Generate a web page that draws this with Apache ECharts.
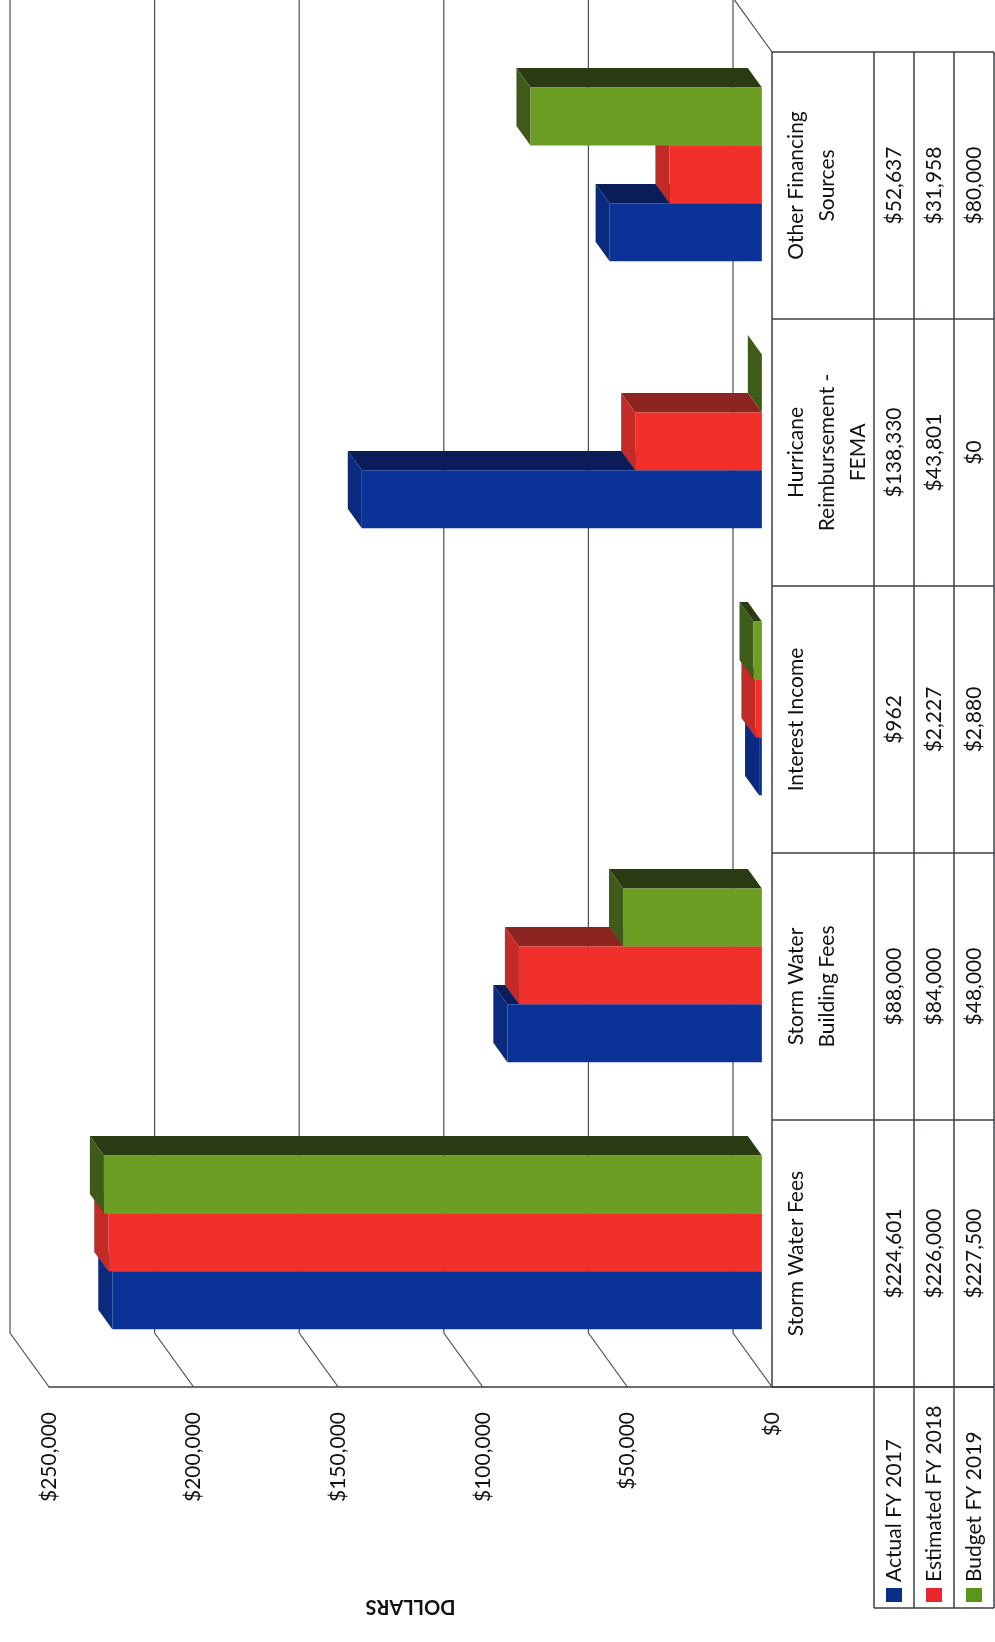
<!DOCTYPE html>
<html>
<head>
<meta charset="utf-8">
<title>Storm Water Revenue</title>
<script src="https://cdn.jsdelivr.net/npm/echarts/dist/echarts.min.js"></script>
<style>
  html, body { margin: 0; padding: 0; background: #ffffff; }
  #chart { width: 995px; height: 1642px; }
</style>
</head>
<body>
<div id="chart"></div>
<script>
// ---- data ----
const categories = [
  'Storm Water Fees',
  'Storm Water\nBuilding Fees',
  'Interest Income',
  'Hurricane\nReimbursement -\nFEMA',
  'Other Financing\nSources'
];
const seriesNames = ['Actual FY 2017', 'Estimated FY 2018', 'Budget FY 2019'];
const actualFY2017 = [224601, 88000, 962, 138330, 52637];
const estimatedFY2018 = [226000, 84000, 2227, 43801, 31958];
const budgetFY2019 = [227500, 48000, 2880, 0, 80000];
const valueTicks = [0, 50000, 100000, 150000, 200000, 250000];
const axisTitle = 'DOLLARS';

// ---- look ----
const FONT = 'Lato, "Open Sans", sans-serif';
const faces = [
  { front: '#0b3397', top: '#0a1d58', end: '#0a2a80', key: '#063087' },
  { front: '#f2302b', top: '#8c2420', end: '#c42a26', key: '#e8262d' },
  { front: '#6c9e23', top: '#2a3a12', end: '#3f5b18', key: '#5b961c' }
];
const DEPTH = [39, 54];          // back wall -> front edge projection (px)
const FRONT_D = 0.74, BACK_D = 0.38; // bar slab position inside the depth
const LINE = '#3b3f44';
const GRID = { left: 49, top: 52, right: 223, bottom: 255 };
const CAT_COL = 102, VAL_COL = 40, LEGEND_H = 221;

const fmt = v => '$' + v.toLocaleString('en-US');
const allSeries = [actualFY2017, estimatedFY2018, budgetFY2019];

function barSeries(s, values) {
  return {
    type: 'custom',
    name: seriesNames[s],
    data: values.map((v, i) => [v, i]),
    encode: { x: 0, y: 1 },
    z: 3 + s,
    renderItem(params, api) {
      const v = api.value(0), c = api.value(1);
      const tip = api.coord([v, c]);
      const base = api.coord([0, c]);
      const band = api.size([0, 1])[1];
      const h = band * 0.217;
      const fx = -(1 - FRONT_D) * DEPTH[0], fy = -(1 - FRONT_D) * DEPTH[1];
      const dx = -(FRONT_D - BACK_D) * DEPTH[0], dy = -(FRONT_D - BACK_D) * DEPTH[1];
      const cy = base[1] + fy + (1 - s) * h + band * 0.011;
      const x0 = base[0] + fx, x1 = tip[0] + fx;
      const yT = cy - h / 2, yB = cy + h / 2;
      const col = faces[s];
      return {
        type: 'group',
        children: [
          { type: 'polygon', shape: { points: [[x1, yT], [x0, yT], [x0 + dx, yT + dy], [x1 + dx, yT + dy]] },
            style: { fill: col.top } },
          { type: 'polygon', shape: { points: [[x1, yT], [x1, yB], [x1 + dx, yB + dy], [x1 + dx, yT + dy]] },
            style: { fill: col.end } },
          { type: 'rect', shape: { x: x1, y: yT, width: Math.max(0, x0 - x1), height: h },
            style: { fill: col.front } }
        ]
      };
    }
  };
}

const chart = echarts.init(document.getElementById('chart'), null, { renderer: 'canvas' });

const option = {
  backgroundColor: '#ffffff',
  animation: false,
  grid: { left: GRID.left, top: GRID.top, right: GRID.right, bottom: GRID.bottom, containLabel: false },
  xAxis: {
    type: 'value',
    inverse: true,
    min: valueTicks[0],
    max: valueTicks[valueTicks.length - 1],
    interval: valueTicks[1] - valueTicks[0],
    position: 'bottom',
    axisLine: { show: true, onZero: false, lineStyle: { color: LINE, width: 1.5 } },
    axisTick: { show: false },
    splitLine: { show: false },
    axisLabel: {
      rotate: 90, margin: 25, formatter: fmt,
      fontFamily: FONT, fontSize: 21, color: '#111'
    }
  },
  yAxis: {
    type: 'category',
    data: categories,
    position: 'right',
    axisLine: { show: true, onZero: false, lineStyle: { color: LINE, width: 1.5 } },
    axisTick: { show: false },
    axisLabel: { show: false },
    splitLine: { show: false }
  },
  series: allSeries.map((vals, s) => barSeries(s, vals))
};
chart.setOption(option);

// ---- walls, data table, legend and axis title, placed from the axes ----
const px = (v, c) => chart.convertToPixel({ gridIndex: 0 }, [v, c]);
const gTop = GRID.top, gBottom = 1642 - GRID.bottom;
const X0 = px(0, 0)[0];
const XMAX = px(valueTicks[valueTicks.length - 1], 0)[0];
const band = Math.abs(px(0, 1)[1] - px(0, 0)[1]);
const graphics = [];

function line(x1, y1, x2, y2, w, color, z) {
  graphics.push({ type: 'line', z: z || 1, silent: true,
    shape: { x1, y1, x2, y2 }, style: { stroke: color || LINE, lineWidth: w || 1 } });
}

// back wall gridlines and the side wall diagonals
valueTicks.forEach(v => {
  const x = px(v, 0)[0];
  line(x - DEPTH[0], gTop - DEPTH[1], x - DEPTH[0], gBottom - DEPTH[1], 1.2, '#4a4d52');
  line(x - DEPTH[0], gBottom - DEPTH[1], x, gBottom, 1.2, '#4a4d52');
});
// floor top edge
line(X0 - DEPTH[0], gTop - DEPTH[1], X0, gTop, 1.2, '#4a4d52');

// data table
const colX = [X0, X0 + CAT_COL, X0 + CAT_COL + VAL_COL, X0 + CAT_COL + 2 * VAL_COL, X0 + CAT_COL + 3 * VAL_COL];
const tableRight = colX[4];
const rowEdges = [];
categories.forEach((c, i) => {
  const cy = px(0, i)[1];
  rowEdges.push(cy + band / 2, cy - band / 2);
});
const edges = Array.from(new Set(rowEdges.map(y => Math.round(y * 10) / 10))).sort((a, b) => a - b);
edges.forEach(y => line(X0, y, tableRight, y, 1.5, LINE, 5));
line(X0, gBottom, tableRight, gBottom, 1.5, LINE, 5);
for (let k = 1; k < colX.length; k++) {
  const yEnd = k === 0 ? gBottom : gBottom + LEGEND_H;
  line(colX[k], gTop, colX[k], yEnd, 1.5, LINE, 5);
}
line(colX[1], gBottom + LEGEND_H, tableRight, gBottom + LEGEND_H, 1.5, LINE, 5);

categories.forEach((name, i) => {
  const cy = px(0, i)[1];
  graphics.push({
    type: 'text', z: 6, silent: true, x: X0 + 9, y: cy, rotation: Math.PI / 2,
    style: { text: name, fontFamily: FONT, fontSize: 21, lineHeight: 31,
      fill: '#111', align: 'center', verticalAlign: 'top' }
  });
  allSeries.forEach((vals, s) => {
    graphics.push({
      type: 'text', z: 6, silent: true,
      x: (colX[s + 1] + colX[s + 2]) / 2, y: cy, rotation: Math.PI / 2,
      style: { text: fmt(vals[i]), fontFamily: FONT, fontSize: 21,
        fill: '#111', align: 'center', verticalAlign: 'middle' }
    });
  });
});

// legend
seriesNames.forEach((name, s) => {
  const cx = (colX[s + 1] + colX[s + 2]) / 2;
  graphics.push({ type: 'rect', z: 6, silent: true,
    shape: { x: cx - 8, y: gBottom + 201, width: 16, height: 14 },
    style: { fill: faces[s].key } });
  graphics.push({
    type: 'text', z: 6, silent: true, x: cx, y: gBottom + 195, rotation: Math.PI / 2,
    style: { text: name, fontFamily: FONT, fontSize: 21, fill: '#111',
      align: 'left', verticalAlign: 'middle' }
  });
});

// value axis title
graphics.push({
  type: 'text', z: 6, silent: true, x: (X0 + XMAX) / 2, y: gBottom + 219, rotation: Math.PI,
  style: { text: axisTitle, fontFamily: FONT, fontSize: 20, fontWeight: 'bold',
    fill: '#111', align: 'center', verticalAlign: 'middle' }
});

chart.setOption({ graphic: { elements: graphics } });
</script>
</body>
</html>
